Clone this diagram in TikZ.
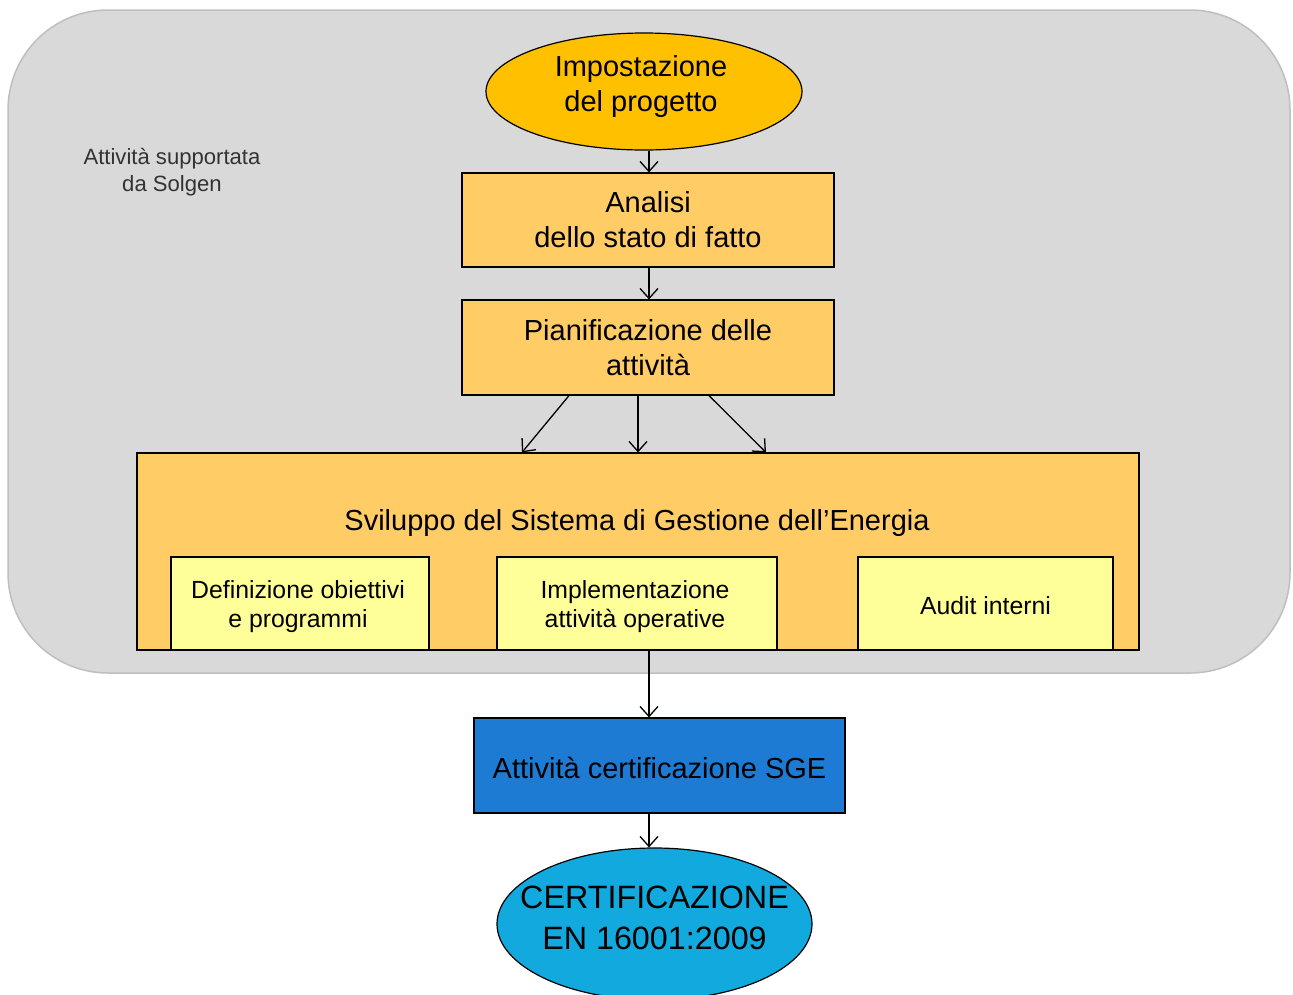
\documentclass[tikz,border=0pt]{standalone}
\usepackage{fontspec}
\setmainfont{Liberation Sans}
\usetikzlibrary{shapes.geometric,arrows.meta}
\definecolor{panel}{HTML}{D9D9D9}
\definecolor{panelline}{HTML}{BFBFBF}
\definecolor{gold}{HTML}{FFC000}
\definecolor{lightorange}{HTML}{FFCC66}
\definecolor{paleyellow}{HTML}{FFFF99}
\definecolor{royal}{HTML}{1E7BD3}
\definecolor{cyanfill}{HTML}{12A9DE}
\tikzset{
  boxstyle/.style={draw=black, line width=1.2pt, rectangle, inner sep=0pt, align=center},
  ovalstyle/.style={draw=black, line width=1.2pt, ellipse, inner sep=0pt, align=center},
  txt/.style={align=center, inner sep=0pt},
  conn/.style={draw=black, line width=1.3pt, -{Straight Barb[length=10pt,width=18pt,line width=1.3pt]}},
  bigfont/.style={font=\fontsize{29}{35}\selectfont},
  smallfont/.style={font=\fontsize{24.8}{29}\selectfont},
}
\begin{document}
\begin{tikzpicture}[x=1pt,y=-1pt]
\useasboundingbox (0,0) rectangle (1293,994);
\fill[white] (0,0) rectangle (1293,994);
% panel
\draw[fill=panel, draw=panelline, line width=1.5pt, rounded corners=100pt] (8,10) rectangle (1290,673);
\node[txt, text=black!80, font=\fontsize{22.1}{27}\selectfont] (lbl) at (172,172) {Attività supportata\\da Solgen};
% shapes
\node[ovalstyle, fill=gold, minimum width=316pt, minimum height=117pt] (imp) at (644,91.5) {};
\node[txt, bigfont] (impt) at (641,86) {Impostazione\\del progetto};
\node[boxstyle, fill=lightorange, minimum width=372pt, minimum height=94pt, bigfont] (ana) at (648,220) {Analisi\\dello stato di fatto};
\node[boxstyle, fill=lightorange, minimum width=372pt, minimum height=95pt, bigfont] (pia) at (648,347.5) {Pianificazione delle\\attività};
\node[boxstyle, fill=lightorange, minimum width=1002pt, minimum height=197pt] (big) at (638,551.5) {};
\node[txt, bigfont] (bigt) at (637,523) {Sviluppo del Sistema di Gestione dell’Energia};
\node[boxstyle, fill=paleyellow, minimum width=258pt, minimum height=93pt] (def) at (300,603.5) {};
\node[txt, smallfont] (deft) at (298,606.5) {Definizione obiettivi\\e programmi};
\node[boxstyle, fill=paleyellow, minimum width=280pt, minimum height=93pt] (imo) at (637,603.5) {};
\node[txt, smallfont] (imot) at (635,606.5) {Implementazione\\attività operative};
\node[boxstyle, fill=paleyellow, minimum width=255pt, minimum height=93pt] (aud) at (985.5,603.5) {};
\node[txt, smallfont] (audt) at (985.5,606) {Audit interni};
\node[boxstyle, fill=royal, minimum width=371pt, minimum height=95pt] (sge) at (659.5,765.5) {};
\node[txt, bigfont] (sget) at (659.5,768) {Attività certificazione SGE};
\node[ovalstyle, fill=cyanfill, minimum width=315pt, minimum height=152pt] (cert) at (654.5,924) {};
\node[txt, font=\fontsize{32.3}{41}\selectfont] (certt) at (654.5,918) {CERTIFICAZIONE\\EN 16001:2009};
% connectors
\draw[conn] ([xshift=5pt]imp.south) -- ([xshift=1pt]ana.north);
\draw[conn] ([xshift=1pt]ana.south) -- ([xshift=1pt]pia.north);
\draw[conn] ([xshift=-79pt]pia.south) -- ([xshift=-116pt]big.north);
\draw[conn] ([xshift=-10pt]pia.south) -- ([xshift=0pt]big.north);
\draw[conn] ([xshift=61pt]pia.south) -- ([xshift=128pt]big.north);
\draw[conn] ([xshift=12pt]imo.south) -- ([xshift=-10.5pt]sge.north);
\draw[conn] ([xshift=-10.5pt]sge.south) -- ([xshift=-5.5pt]cert.north);
\end{tikzpicture}
\end{document}
